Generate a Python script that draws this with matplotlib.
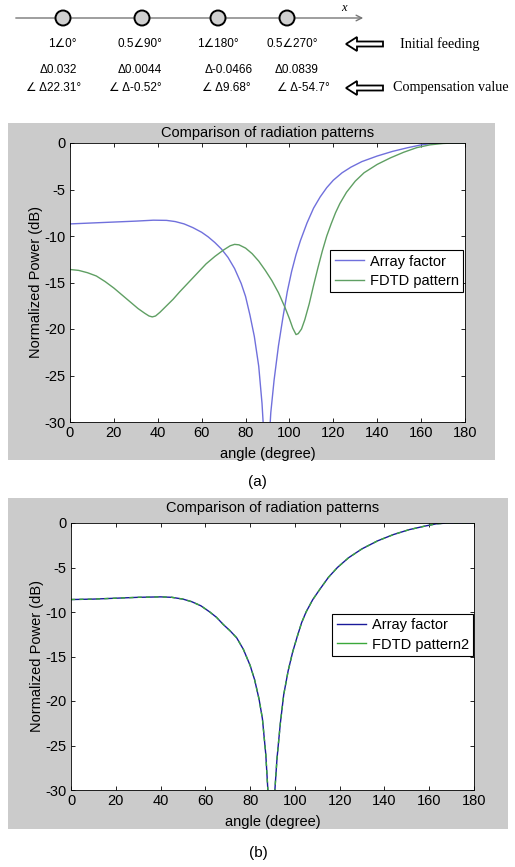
import matplotlib.pyplot as plt
import matplotlib.patches as mpatches

plt.rcParams["axes.unicode_minus"] = False

W, H = 515, 867

# element feeding / compensation labels
feed_labels = ["1∠0°", "0.5∠90°", "1∠180°", "0.5∠270°"]
amp_comp = ["Δ0.032", "Δ0.0044", "Δ-0.0466", "Δ0.0839"]
phase_comp = ["∠ Δ22.31°", "∠ Δ-0.52°", "∠ Δ9.68°", "∠ Δ-54.7°"]

# (a) array factor vs FDTD pattern
angle_af_a = [0, 10, 20, 30, 38, 44, 48, 52, 56, 60, 63, 66, 69, 72, 75, 78,
              80, 82, 84, 86, 87.5, 88.5, 89.5, 90.5, 91.5, 93, 95, 97, 99,
              101, 103, 105, 108, 111, 114, 117, 120, 124, 128, 133, 140, 147,
              154, 160, 165, 170, 180]
af_a = [-8.7, -8.6, -8.5, -8.4, -8.3, -8.32, -8.45, -8.7, -9.1, -9.6, -10.1,
        -10.7, -11.4, -12.3, -13.5, -15.1, -16.5, -18.5, -20.8, -24.0, -28.0,
        -32.0, -40.0, -33.0, -29.0, -25.5, -21.8, -18.8, -16.0, -13.8, -12.0,
        -10.5, -8.6, -7.0, -5.8, -4.8, -4.0, -3.2, -2.6, -2.0, -1.4, -0.9,
        -0.5, -0.2, -0.05, 0, 0]

angle_fdtd_a = [0, 4, 8, 12, 16, 20, 24, 28, 31, 34, 36, 37.5, 39, 41, 44, 47,
                50, 54, 58, 62, 66, 70, 73, 75, 77, 80, 83, 86, 89, 92, 95, 98,
                100, 101.5, 103, 104, 105.5, 107, 109, 111, 113, 115, 117, 119,
                121, 123, 126, 130, 134, 140, 146, 152, 158, 164, 170, 175, 180]
fdtd_a = [-13.6, -13.7, -13.95, -14.3, -14.9, -15.6, -16.4, -17.2, -17.8,
          -18.3, -18.6, -18.7, -18.6, -18.2, -17.5, -16.8, -16.0, -15.0, -14.0,
          -13.0, -12.2, -11.5, -11.05, -10.9, -10.95, -11.3, -11.9, -12.7,
          -13.7, -14.8, -16.1, -17.7, -18.9, -19.9, -20.6, -20.5, -20.0, -19.0,
          -17.3, -15.3, -13.4, -11.6, -10.0, -8.7, -7.5, -6.5, -5.3, -4.1,
          -3.2, -2.3, -1.6, -1.0, -0.5, -0.2, -0.05, 0, 0]

# (b) array factor vs compensated FDTD pattern
angle_b = [0, 10, 20, 30, 40, 45, 50, 54, 58, 62, 65, 68, 71, 74, 77, 80, 82,
           84, 85.5, 87, 88, 89.5, 90.8, 92, 93.5, 95, 97, 99, 101, 103, 105,
           108, 111, 115, 119, 124, 130, 137, 144, 151, 158, 163, 168, 180]
af_b = [-8.6, -8.55, -8.45, -8.35, -8.3, -8.35, -8.55, -8.85, -9.3, -10.0,
        -10.6, -11.4, -12.1, -12.9, -14.2, -16.0, -17.6, -19.8, -22.0, -26.0,
        -30.3, -40.0, -31.0, -26.5, -22.5, -19.3, -16.6, -14.5, -12.8, -11.2,
        -10.0, -8.6, -7.5, -6.1, -5.0, -3.9, -2.9, -2.0, -1.3, -0.75, -0.35,
        -0.1, 0, 0]
fdtd2_b = [-8.6, -8.55, -8.45, -8.35, -8.3, -8.35, -8.55, -8.85, -9.3, -10.0,
           -10.6, -11.4, -12.1, -12.9, -14.2, -16.0, -17.6, -19.8, -22.0, -26.0,
           -30.3, -40.0, -31.0, -26.5, -22.5, -19.3, -16.6, -14.5, -12.8, -11.2,
           -10.0, -8.6, -7.5, -6.1, -5.0, -3.9, -2.9, -2.0, -1.3, -0.75, -0.35,
           -0.1, 0, 0]

xticks = list(range(0, 181, 20))
yticks = [0, -5, -10, -15, -20, -25, -30]

SANS = "Liberation Sans"
LABEL_FONT = ["Liberation Sans", "DejaVu Sans"]
GRAY = "#cbcbcb"


def rect(x0, y0, x1, y1):
    # pixel box -> figure fraction
    return [x0 / W, 1 - y1 / H, (x1 - x0) / W, (y1 - y0) / H]


fig = plt.figure(figsize=(W / 100, H / 100), dpi=100)
fig.patch.set_facecolor("white")

# overlay for the element diagram and gray panels
ov = fig.add_axes([0, 0, 1, 1], zorder=0)
ov.set_xlim(0, W)
ov.set_ylim(H, 0)
ov.axis("off")

ov.add_patch(mpatches.Rectangle((8, 123), 487, 337, color=GRAY, lw=0))
ov.add_patch(mpatches.Rectangle((8, 498), 500, 331, color=GRAY, lw=0))

# x axis with elements
ov.annotate("", xy=(366, 18), xytext=(13, 18),
            arrowprops=dict(arrowstyle="->", color="#777777", lw=1.0))
ov.text(344, 8, "x", fontfamily="Liberation Serif", fontstyle="italic",
        fontsize=9, ha="center", va="center")
elem_x = [63, 142, 218, 287]
for ex in elem_x:
    ov.add_patch(mpatches.Ellipse((ex, 18), 15, 15, facecolor="#d0d0d0",
                                  edgecolor="black", lw=1.4, zorder=3))

row1_x = [62, 140, 218, 292]
row2_x = [58, 140, 229, 297]
row3_x = [54, 135, 226, 303]
for lx, s in zip(row1_x, feed_labels):
    ov.text(lx, 44, s, fontsize=8.5, family=LABEL_FONT, ha="center", va="center")
for lx, s in zip(row2_x, amp_comp):
    ov.text(lx, 70, s, fontsize=8.5, family=LABEL_FONT, ha="center", va="center")
for lx, s in zip(row3_x, phase_comp):
    ov.text(lx, 88, s, fontsize=8.5, family=LABEL_FONT, ha="center", va="center")

for ay, label, tx in [(44, "Initial feeding", 400), (88, "Compensation value", 393)]:
    ov.add_patch(mpatches.FancyArrow(383, ay, -37, 0, width=5, head_width=14,
                                     head_length=11, length_includes_head=True,
                                     facecolor="white", edgecolor="black", lw=1.3))
    ov.text(tx, ay, label, fontsize=10.2, fontfamily="Liberation Serif",
            ha="left", va="center")


def style_axes(ax, title_pad):
    ax.set_xlim(0, 180)
    ax.set_ylim(-30, 0)
    ax.set_xticks(xticks)
    ax.set_yticks(yticks)
    ax.tick_params(direction="in", top=True, right=True, length=3, width=0.6,
                   labelsize=10.5, pad=3)
    for lab in ax.get_xticklabels() + ax.get_yticklabels():
        lab.set_fontfamily(SANS)
    for sp in ax.spines.values():
        sp.set_linewidth(0.6)
    ax.set_title("Comparison of radiation patterns", fontsize=10.5,
                 fontfamily=SANS, pad=title_pad)
    ax.set_xlabel("angle (degree)", fontsize=10.5, fontfamily=SANS, labelpad=5)
    ax.set_ylabel("Normalized Power (dB)", fontsize=10.5, fontfamily=SANS,
                  labelpad=1)


def add_legend(ax, anchor):
    leg = ax.legend(loc="upper right", bbox_to_anchor=anchor,
                    prop={"family": SANS, "size": 10.5}, fancybox=False,
                    edgecolor="black", framealpha=1, handlelength=2.0,
                    borderpad=0.3, labelspacing=0.35, handletextpad=0.4,
                    borderaxespad=0)
    leg.get_frame().set_linewidth(0.8)
    return leg


ax_a = fig.add_axes(rect(70, 143, 465, 422), zorder=1)
ax_a.plot(angle_af_a, af_a, color="#7070dc", lw=1.0, label="Array factor")
ax_a.plot(angle_fdtd_a, fdtd_a, color="#5f9f63", lw=1.0, label="FDTD pattern")
style_axes(ax_a, 4)
add_legend(ax_a, (0.995, 0.616))

ax_b = fig.add_axes(rect(71, 523, 474, 790), zorder=1)
ax_b.plot(angle_b, af_b, color="#1a1a9a", lw=1.0, label="Array factor")
ax_b.plot(angle_b, fdtd2_b, color="#3aa83a", lw=1.0, dashes=(3, 3),
          label="FDTD pattern2")
style_axes(ax_b, 8)
leg = add_legend(ax_b, (0.998, 0.659))
leg.get_lines()[1].set_linestyle("-")

ov.text(257, 482, "(a)", fontsize=11, fontfamily=SANS, ha="center", va="center")
ov.text(258, 853, "(b)", fontsize=11, fontfamily=SANS, ha="center", va="center")

fig.savefig("out.png", dpi=100)
